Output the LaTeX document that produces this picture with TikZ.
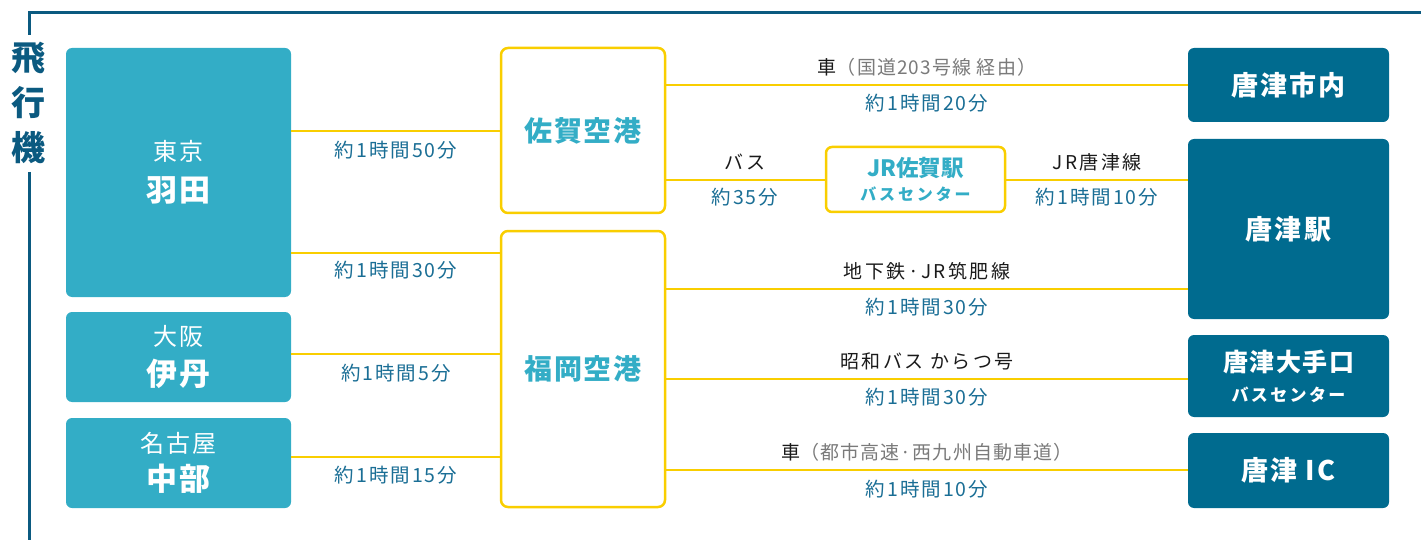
\documentclass[tikz,border=0pt]{standalone}
\usepackage{fontspec}
\setmainfont{Noto Sans CJK JP}
\newfontfamily\jpsp{Noto Sans CJK JP}[LetterSpace=10]
\newfontfamily\jpbl{Noto Sans CJK JP}[LetterSpace=13]
\newfontfamily\jpgr{Noto Sans CJK JP}[LetterSpace=6]
\newfontfamily\jpbx{Noto Sans CJK JP}[LetterSpace=8]
\newfontfamily\jpsq{Noto Sans CJK JP}[LetterSpace=14]
\newfontfamily\jpsr{Noto Sans CJK JP}[LetterSpace=18]
\definecolor{cFrame}{HTML}{0B5A80}
\definecolor{cLeft}{HTML}{33ADC6}
\definecolor{cRight}{HTML}{006B8F}
\definecolor{cYel}{HTML}{F9CE00}
\definecolor{cLab}{HTML}{1A6E95}
\definecolor{cBlk}{HTML}{1A1A1A}
\definecolor{cGray}{HTML}{7A7A7A}
\tikzset{
  lbox/.style={fill=cLeft, rounded corners=6pt, inner sep=0pt, text=white, align=center, minimum width=225pt},
  rbox/.style={fill=cRight, rounded corners=6pt, inner sep=0pt, text=white, align=center, minimum width=201pt, font=\fontsize{27}{30}\selectfont\bfseries\jpbx},
  ybox/.style={draw=cYel, line width=2.5pt, fill=white, rounded corners=7pt, inner sep=0pt, text=cLeft, align=center},
  link/.style={draw=cYel, line width=2pt},
  tlab/.style={text=cLab, inner sep=0pt, font=\fontsize{19.5}{20}\selectfont\jpsp},
  blab/.style={text=cBlk, inner sep=0pt, font=\fontsize{19}{20}\selectfont\jpbl},
  frame/.style={draw=cFrame, line width=3pt}
}
\newcommand{\upl}[1]{{\fontsize{24}{26}\selectfont\jpbx #1}}
\newcommand{\lol}[1]{{\fontsize{31}{34}\selectfont\bfseries\jpbx #1}}
\begin{document}
\begin{tikzpicture}[x=1pt,y=-1pt]
\useasboundingbox (0,0) rectangle (1421,540);
% frame
\coordinate (ftop) at (1421,12.5);
\coordinate (fcorner) at (29,12.5);
\coordinate (fgap1) at (29,35);
\coordinate (fgap2) at (29,172);
\coordinate (fbot) at (29,540);
\draw[frame] (ftop) -- (fcorner) -- (fgap1);
\draw[frame] (fgap2) -- (fbot);
\node[text=cFrame, inner sep=0pt, font=\fontsize{34}{45}\selectfont\bfseries, align=center] (title) at (29,103) {飛\\行\\機};
% left boxes
\node[lbox, minimum height=249pt] (haneda) at (178.5,172.5) {\upl{東京}\\[13pt]\lol{羽田}};
\node[lbox, minimum height=90pt] (itami) at (178.5,357) {\upl{大阪}\\[11pt]\lol{伊丹}};
\node[lbox, minimum height=90pt] (chubu) at (178.5,463) {\upl{名古屋}\\[9pt]\lol{中部}};
% airports
\node[ybox, minimum width=164pt, minimum height=165pt, font=\fontsize{28}{30}\selectfont\bfseries\jpgr] (saga) at (583,130.5) {佐賀空港};
\node[ybox, minimum width=164pt, minimum height=276pt, font=\fontsize{28}{30}\selectfont\bfseries\jpgr] (fuk) at (583,369) {福岡空港};
\node[ybox, minimum width=179pt, minimum height=65pt, rounded corners=6pt] (jrsaga) at (915.5,179.5) {{\fontsize{22.5}{24}\selectfont\bfseries JR佐賀駅}\\[7pt]{\fontsize{16}{18}\selectfont\bfseries\jpsr バスセンター}};
% right boxes
\node[rbox, minimum height=74pt] (shinai) at (1288.5,85) {唐津市内};
\node[rbox, minimum height=180pt] (eki) at (1288.5,229) {唐津駅};
\node[rbox, minimum height=82pt] (ote) at (1288.5,376) {{\fontsize{25}{28}\selectfont\bfseries\jpgr 唐津大手口}\\[0pt]{\fontsize{17}{20}\selectfont\bfseries\jpsq バスセンター}};
\node[rbox, minimum height=75pt] (ic) at (1288.5,470.5) {唐津 IC};
% left links
\draw[link] (haneda.east |- 0,131) -- (saga.west |- 0,131);
\draw[link] (haneda.east |- 0,252.5) -- (fuk.west |- 0,252.5);
\draw[link] (itami.east |- 0,354) -- (fuk.west |- 0,354);
\draw[link] (chubu.east |- 0,457) -- (fuk.west |- 0,457);
\node[tlab] (l1) at (396,150) {約1時間50分};
\node[tlab] (l2) at (396,270) {約1時間30分};
\node[tlab] (l3) at (396,373) {約1時間5分};
\node[tlab] (l4) at (396,475) {約1時間15分};
% right links
\draw[link] (saga.east |- 0,85) -- (shinai.west |- 0,85);
\draw[link] (saga.east |- 0,180) -- (jrsaga.west |- 0,180);
\draw[link] (jrsaga.east |- 0,180) -- (eki.west |- 0,180);
\draw[link] (fuk.east |- 0,289) -- (eki.west |- 0,289);
\draw[link] (fuk.east |- 0,379) -- (ote.west |- 0,379);
\draw[link] (fuk.east |- 0,470) -- (ic.west |- 0,470);
\node[blab] (r1a) at (927,67) {車{\jpgr\color{cGray}（国道203号線 経由）}};
\node[tlab] (r1b) at (927,103) {約1時間20分};
\node[blab] (r2a) at (745,162) {バス};
\node[tlab] (r2b) at (745,197) {約35分};
\node[blab] (r3a) at (1097,162) {JR唐津線};
\node[tlab] (r3b) at (1097,197) {約1時間10分};
\node[blab] (r4a) at (927,271) {地下鉄·JR筑肥線};
\node[tlab] (r4b) at (927,307) {約1時間30分};
\node[blab] (r5a) at (927,361) {昭和バス からつ号};
\node[tlab] (r5b) at (927,397) {約1時間30分};
\node[blab] (r6a) at (927,452) {車{\jpgr\color{cGray}（都市高速·西九州自動車道）}};
\node[tlab] (r6b) at (927,489) {約1時間10分};
\end{tikzpicture}
\end{document}
